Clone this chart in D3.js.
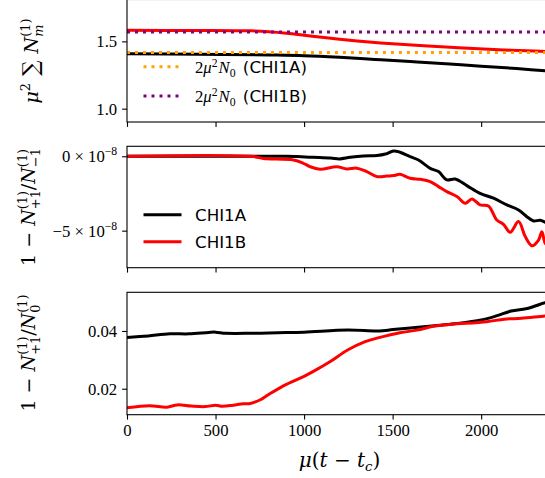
<!DOCTYPE html>
<html><head><meta charset="utf-8">
<script src="https://cdn.jsdelivr.net/npm/d3@7"></script>
<style>body{margin:0;background:#fff}svg{display:block}</style>
</head><body><svg id="c" width="545" height="478"></svg>
<script>
// ---------- data ----------
const xTicks = [0, 500, 1000, 1500, 2000];

// panel 1: mu^2 sum N_m^(1)
const sumAX = [0, 400, 800, 1000, 1200, 1400, 1600, 1800, 2000, 2200, 2400];
const sumA  = [1.408, 1.405, 1.399, 1.394, 1.382, 1.366, 1.350, 1.333, 1.316, 1.298, 1.278];
const sumBX = [0, 400, 700, 800, 900, 1000, 1100, 1200, 1300, 1400, 1500, 1700, 1900, 2100, 2300, 2400];
const sumB  = [1.582, 1.581, 1.578, 1.572, 1.561, 1.546, 1.530, 1.516, 1.503, 1.492, 1.482, 1.465, 1.450, 1.438, 1.428, 1.423];
const n0A = 1.418;   // 2 mu^2 N0 (CHI1A)
const n0B = 1.570;   // 2 mu^2 N0 (CHI1B)
const sumTicks = [1.0, 1.5];

// panel 2: 1 - N+1/N-1   (units of 1e-8)
const midAX = [0, 900, 960, 1050, 1150, 1200, 1260, 1335, 1411, 1460, 1505, 1542, 1599, 1646, 1712, 1759, 1806, 1853, 1919, 1994, 2070, 2145, 2211, 2258, 2296, 2333, 2362, 2400];
const midA  = [0, 0, -0.02, -0.07, -0.12, -0.18, -0.07, 0.02, 0.05, 0.15, 0.36, 0.27, -0.03, -0.25, -0.81, -1.03, -1.59, -1.53, -1.97, -2.49, -2.82, -3.27, -3.61, -4.06, -4.35, -4.30, -4.44, -4.6];
const midBX = [0, 714, 770, 940, 996, 1034, 1090, 1185, 1241, 1298, 1354, 1411, 1467, 1505, 1542, 1599, 1655, 1712, 1759, 1806, 1863, 1910, 1948, 1994, 2041, 2088, 2126, 2164, 2211, 2249, 2287, 2324, 2343, 2362, 2400];
const midB  = [0, -0.02, -0.15, -0.25, -0.47, -0.70, -0.87, -0.70, -0.85, -0.80, -1.03, -1.37, -1.33, -1.30, -1.21, -1.48, -1.55, -1.70, -2.04, -2.38, -2.71, -3.16, -2.87, -3.27, -3.34, -4.28, -4.57, -5.11, -4.39, -5.40, -6.01, -5.63, -5.07, -5.85, -6.2];
const midTicks = [0, -5];

// panel 3: 1 - N+1/N0
const botAX = [0, 120, 243, 350, 461, 500, 559, 700, 850, 1000, 1246, 1423, 1502, 1600, 1737, 1850, 2000, 2090, 2169, 2266, 2361, 2400];
const botA  = [0.0377, 0.0383, 0.0390, 0.0390, 0.0395, 0.0396, 0.0392, 0.0392, 0.0394, 0.0396, 0.0403, 0.0400, 0.0405, 0.0410, 0.0418, 0.0425, 0.0438, 0.0453, 0.0469, 0.0479, 0.0498, 0.0503];
const botBX = [0, 127, 225, 284, 362, 441, 500, 539, 600, 657, 696, 750, 800, 900, 1000, 1050, 1148, 1246, 1345, 1423, 1541, 1638, 1737, 1835, 2031, 2130, 2228, 2361, 2400];
const botB  = [0.0134, 0.0141, 0.0136, 0.0144, 0.0140, 0.0138, 0.0143, 0.0139, 0.0143, 0.0148, 0.0149, 0.0161, 0.0180, 0.0215, 0.0243, 0.0259, 0.0294, 0.0334, 0.0363, 0.0377, 0.0394, 0.0403, 0.0417, 0.0423, 0.0432, 0.0441, 0.0444, 0.0452, 0.0453];
const botTicks = [0.02, 0.04];

const legendNames = ["CHI1A", "CHI1B"];

// ---------- drawing ----------
const SERIF = "'Liberation Serif','DejaVu Serif',serif";
const MATH = "'DejaVu Serif','Liberation Serif',serif";
const SANS = "'DejaVu Sans',sans-serif";
const FS = 16.7, LFS = 19;
const svg = d3.select("#c");
const xL = 127, xR = 552;
const x = d3.scaleLinear().domain([0, 2400]).range([xL, xR]);

function panel(id, top, bottom, domain, ticks, fmt) {
  const y = d3.scaleLinear().domain(domain).range([bottom, top]);
  const g = svg.append("g");
  g.append("clipPath").attr("id", "clip" + id).append("rect")
    .attr("x", xL).attr("y", top).attr("width", xR - xL).attr("height", bottom - top);
  const ax = g.append("g").attr("transform", `translate(${xL},0)`)
    .call(d3.axisLeft(y).tickValues(ticks).tickSize(4.9).tickPadding(4.9).tickFormat(fmt));
  ax.select(".domain").remove();
  ax.selectAll("text").attr("font-family", SERIF).attr("font-size", FS).attr("fill", "#000");
  ax.selectAll("line").attr("stroke", "#000").attr("stroke-width", 1.1);
  const bx = g.append("g").attr("transform", `translate(0,${bottom})`)
    .call(d3.axisBottom(x).tickValues(xTicks).tickSize(4.9).tickPadding(4.9).tickFormat(d3.format("d")));
  bx.select(".domain").remove();
  if (id !== 3) bx.selectAll("text").remove();
  bx.selectAll("text").attr("font-family", SERIF).attr("font-size", FS).attr("fill", "#000");
  bx.selectAll("line").attr("stroke", "#000").attr("stroke-width", 1.1);
  const plot = g.append("g").attr("clip-path", `url(#clip${id})`);
  return { g, y, plot, ax, top, bottom };
}

function line(p, xs, ys, color) {
  const pts = xs.map((d, i) => [d, ys[i]]);
  p.plot.append("path").datum(pts)
    .attr("d", d3.line().x(d => x(d[0])).y(d => p.y(d[1])).curve(d3.curveCatmullRom.alpha(0.5)))
    .attr("fill", "none").attr("stroke", color).attr("stroke-width", 3)
    .attr("stroke-linejoin", "round");
}
function hdot(p, v, color) {
  p.plot.append("line").attr("x1", xL).attr("x2", xR).attr("y1", p.y(v)).attr("y2", p.y(v))
    .attr("stroke", color).attr("stroke-width", 3).attr("stroke-dasharray", "3,5");
}
function frame(p) {
  p.g.append("rect").attr("x", xL).attr("y", p.top).attr("width", xR - xL).attr("height", p.bottom - p.top)
    .attr("fill", "none").attr("stroke", "#000").attr("stroke-width", 1.1);
}

// ---- panel 1
const p1 = panel(1, -0.5, 122, [0.901, 1.811], sumTicks, d3.format(".1f"));
line(p1, sumAX, sumA, "#000");
line(p1, sumBX, sumB, "#ff0000");
hdot(p1, n0A, "#ffa500");
hdot(p1, n0B, "#800080");
frame(p1);

// ---- panel 2
const p2 = panel(2, 146.3, 267.7, [-7.49, 0.67], midTicks, d => (d === 0 ? "0 × 10" : "−5 × 10"));
p2.ax.selectAll(".tick text").each(function () {
  const t = d3.select(this);
  const base = t.text();
  t.text(null);
  t.append("tspan").text(base);
  t.append("tspan").text("−8").attr("font-size", FS * 0.7).attr("dy", -7);
});
line(p2, midAX, midA, "#000");
line(p2, midBX, midB, "#ff0000");
frame(p2);

// ---- panel 3
const p3 = panel(3, 292.3, 414.7, [0.0110, 0.0534], botTicks, d3.format(".2f"));
line(p3, botAX, botA, "#000");
line(p3, botBX, botB, "#ff0000");
frame(p3);

// ---- legends
function legendRow(yy, color, dotted) {
  svg.append("line").attr("x1", 143.5).attr("x2", 181.5).attr("y1", yy).attr("y2", yy)
    .attr("stroke", color).attr("stroke-width", 3).attr("stroke-dasharray", dotted ? "3,5" : null);
  return svg.append("text").attr("x", 195).attr("y", yy + 6).attr("font-size", FS).attr("fill", "#000");
}
[["#ffa500", 66.7, legendNames[0]], ["#800080", 96, legendNames[1]]].forEach(r => {
  const t = legendRow(r[1], r[0], true).attr("font-family", SERIF);
  t.append("tspan").text("2");
  t.append("tspan").text("μ").attr("font-style", "italic");
  t.append("tspan").text("2").attr("font-size", FS * 0.7).attr("dy", -6);
  t.append("tspan").text("N").attr("font-style", "italic").attr("dy", 6).attr("dx", 1);
  t.append("tspan").text("0").attr("font-size", FS * 0.7).attr("dy", 4);
  t.append("tspan").text(" (" + r[2] + ")").attr("font-family", SANS).attr("dy", -4).attr("dx", 2);
});
legendRow(214.7, "#000", false).attr("font-family", SANS).text(legendNames[0]);
legendRow(241.7, "#ff0000", false).attr("font-family", SANS).text(legendNames[1]);

// ---- axis labels
function ylab(cx, cy) {
  return svg.append("text").attr("transform", `translate(${cx},${cy}) rotate(-90)`)
    .attr("text-anchor", "middle").attr("font-family", MATH).attr("font-size", LFS).attr("fill", "#000");
}
// appends N^{(1)}_{sub}; returns dy the next tspan must use to come back to baseline
function nsupsub(t, sub, lead) {
  t.append("tspan").text("N").attr("font-style", "italic").attr("dy", lead || null);
  const s = LFS * 0.68;
  const a = t.append("tspan").text("(1)").attr("font-size", s).attr("dy", -8);
  const w = a.node().getComputedTextLength();
  const b = t.append("tspan").text(sub).attr("font-size", s).attr("dx", -w).attr("dy", 13)
    .attr("font-style", /^[a-z]$/.test(sub) ? "italic" : null);
  const wb = b.node().getComputedTextLength();
  return { back: -5, pad: Math.max(0, w - wb) };
}
{
  const t = ylab(38, 61);
  t.append("tspan").text("μ").attr("font-style", "italic");
  t.append("tspan").text("2").attr("font-size", LFS * 0.68).attr("dy", -8);
  t.append("tspan").text(" ∑ ").attr("dy", 8).attr("font-size", LFS * 1.15);
  nsupsub(t, "m");
}
function ratioLabel(cy, sub2) {
  const t = ylab(35, cy);
  t.append("tspan").text("1 − ");
  const r = nsupsub(t, "+1");
  t.append("tspan").text("/").attr("dy", r.back).attr("dx", r.pad);
  nsupsub(t, sub2);
}
ratioLabel(207, "−1");
ratioLabel(353, "0");

const xl = svg.append("text").attr("x", (xL + xR) / 2).attr("y", 467).attr("text-anchor", "middle")
  .attr("font-family", MATH).attr("font-size", LFS + 1).attr("fill", "#000");
xl.append("tspan").text("μ").attr("font-style", "italic");
xl.append("tspan").text("(");
xl.append("tspan").text("t").attr("font-style", "italic");
xl.append("tspan").text(" − ");
xl.append("tspan").text("t").attr("font-style", "italic");
xl.append("tspan").text("c").attr("font-style", "italic").attr("font-size", LFS * 0.7).attr("dy", 4);
xl.append("tspan").text(")").attr("dy", -4);
</script></body></html>
